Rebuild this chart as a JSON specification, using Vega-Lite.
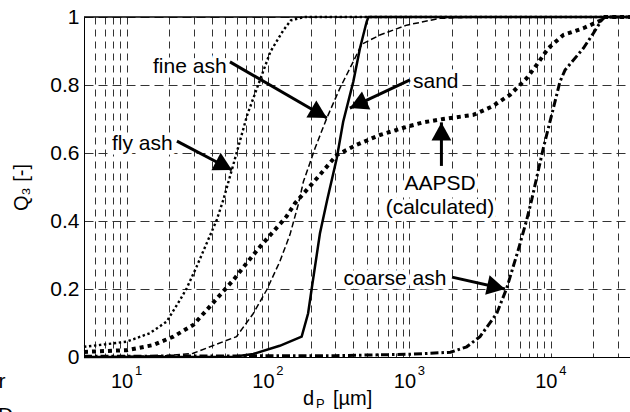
{
  "$schema": "https://vega.github.io/schema/vega-lite/v6.json",
  "width": 546,
  "height": 340,
  "autosize": {"type": "none"},
  "padding": {"left": 84, "top": 17, "right": 0, "bottom": 55},
  "background": "white",
  "config": {
    "view": {"stroke": null},
    "text": {"font": "Liberation Sans", "color": "black"},
    "axis": {"labelFont": "Liberation Sans", "titleFont": "Liberation Sans"}
  },
  "datasets": {
    "curves": [
      {"s": "fly ash", "d": 5, "q": 0.03}, {"s": "fly ash", "d": 7, "q": 0.037}, {"s": "fly ash", "d": 10, "q": 0.045},
      {"s": "fly ash", "d": 14.6, "q": 0.07}, {"s": "fly ash", "d": 19.2, "q": 0.104}, {"s": "fly ash", "d": 23.9, "q": 0.168},
      {"s": "fly ash", "d": 26.6, "q": 0.202}, {"s": "fly ash", "d": 31.3, "q": 0.266}, {"s": "fly ash", "d": 36.8, "q": 0.334},
      {"s": "fly ash", "d": 43.4, "q": 0.403}, {"s": "fly ash", "d": 48.3, "q": 0.462}, {"s": "fly ash", "d": 55.9, "q": 0.555},
      {"s": "fly ash", "d": 71.3, "q": 0.712}, {"s": "fly ash", "d": 88.7, "q": 0.82}, {"s": "fly ash", "d": 104, "q": 0.898},
      {"s": "fly ash", "d": 128, "q": 0.96}, {"s": "fly ash", "d": 145, "q": 0.99}, {"s": "fly ash", "d": 180, "q": 1},
      {"s": "fly ash", "d": 36260, "q": 1},

      {"s": "AAPSD", "d": 5, "q": 0.015}, {"s": "AAPSD", "d": 10, "q": 0.02}, {"s": "AAPSD", "d": 15.4, "q": 0.035},
      {"s": "AAPSD", "d": 21.4, "q": 0.06}, {"s": "AAPSD", "d": 29.6, "q": 0.094}, {"s": "AAPSD", "d": 36.8, "q": 0.138},
      {"s": "AAPSD", "d": 45.7, "q": 0.182}, {"s": "AAPSD", "d": 56.8, "q": 0.226}, {"s": "AAPSD", "d": 70.6, "q": 0.276},
      {"s": "AAPSD", "d": 87.7, "q": 0.324}, {"s": "AAPSD", "d": 109, "q": 0.369}, {"s": "AAPSD", "d": 135, "q": 0.413},
      {"s": "AAPSD", "d": 155, "q": 0.452}, {"s": "AAPSD", "d": 221, "q": 0.525}, {"s": "AAPSD", "d": 306, "q": 0.594},
      {"s": "AAPSD", "d": 423, "q": 0.624}, {"s": "AAPSD", "d": 618, "q": 0.653}, {"s": "AAPSD", "d": 955, "q": 0.677},
      {"s": "AAPSD", "d": 1250, "q": 0.69}, {"s": "AAPSD", "d": 1730, "q": 0.7}, {"s": "AAPSD", "d": 2830, "q": 0.712},
      {"s": "AAPSD", "d": 3810, "q": 0.736}, {"s": "AAPSD", "d": 5140, "q": 0.771}, {"s": "AAPSD", "d": 6745, "q": 0.82},
      {"s": "AAPSD", "d": 7930, "q": 0.859}, {"s": "AAPSD", "d": 9570, "q": 0.908}, {"s": "AAPSD", "d": 12250, "q": 0.947},
      {"s": "AAPSD", "d": 16950, "q": 0.967}, {"s": "AAPSD", "d": 22870, "q": 0.991}, {"s": "AAPSD", "d": 24100, "q": 1},
      {"s": "AAPSD", "d": 36260, "q": 1},

      {"s": "sand", "d": 5, "q": 0}, {"s": "sand", "d": 57, "q": 0.001}, {"s": "sand", "d": 78.7, "q": 0.009},
      {"s": "sand", "d": 121, "q": 0.033}, {"s": "sand", "d": 173, "q": 0.06}, {"s": "sand", "d": 192, "q": 0.128},
      {"s": "sand", "d": 203, "q": 0.197}, {"s": "sand", "d": 233, "q": 0.364}, {"s": "sand", "d": 262, "q": 0.462},
      {"s": "sand", "d": 306, "q": 0.584}, {"s": "sand", "d": 340, "q": 0.692}, {"s": "sand", "d": 401, "q": 0.81},
      {"s": "sand", "d": 447, "q": 0.908}, {"s": "sand", "d": 498, "q": 0.986}, {"s": "sand", "d": 513, "q": 1},
      {"s": "sand", "d": 36260, "q": 1},

      {"s": "fine ash", "d": 5, "q": 0}, {"s": "fine ash", "d": 19.2, "q": 0.004}, {"s": "fine ash", "d": 29.6, "q": 0.011},
      {"s": "fine ash", "d": 59.9, "q": 0.06}, {"s": "fine ash", "d": 78.7, "q": 0.128}, {"s": "fine ash", "d": 97.8, "q": 0.197},
      {"s": "fine ash", "d": 121, "q": 0.28}, {"s": "fine ash", "d": 143, "q": 0.36}, {"s": "fine ash", "d": 164, "q": 0.45},
      {"s": "fine ash", "d": 178, "q": 0.516}, {"s": "fine ash", "d": 215, "q": 0.614}, {"s": "fine ash", "d": 260, "q": 0.702},
      {"s": "fine ash", "d": 322, "q": 0.79}, {"s": "fine ash", "d": 401, "q": 0.869}, {"s": "fine ash", "d": 460, "q": 0.92},
      {"s": "fine ash", "d": 618, "q": 0.947}, {"s": "fine ash", "d": 955, "q": 0.976}, {"s": "fine ash", "d": 1644, "q": 0.996},
      {"s": "fine ash", "d": 3000, "q": 1}, {"s": "fine ash", "d": 36260, "q": 1},

      {"s": "coarse ash", "d": 5, "q": 0.002}, {"s": "coarse ash", "d": 300, "q": 0.004}, {"s": "coarse ash", "d": 1007, "q": 0.008},
      {"s": "coarse ash", "d": 1950, "q": 0.014}, {"s": "coarse ash", "d": 2541, "q": 0.03}, {"s": "coarse ash", "d": 3155, "q": 0.06},
      {"s": "coarse ash", "d": 4140, "q": 0.128}, {"s": "coarse ash", "d": 4870, "q": 0.202}, {"s": "coarse ash", "d": 5880, "q": 0.315},
      {"s": "coarse ash", "d": 6745, "q": 0.403}, {"s": "coarse ash", "d": 7315, "q": 0.462}, {"s": "coarse ash", "d": 8840, "q": 0.614},
      {"s": "coarse ash", "d": 10400, "q": 0.731}, {"s": "coarse ash", "d": 11600, "q": 0.81}, {"s": "coarse ash", "d": 12590, "q": 0.844},
      {"s": "coarse ash", "d": 16960, "q": 0.908}, {"s": "coarse ash", "d": 19950, "q": 0.952}, {"s": "coarse ash", "d": 22860, "q": 0.991},
      {"s": "coarse ash", "d": 24150, "q": 1}, {"s": "coarse ash", "d": 36260, "q": 1}
    ],
    "labels": [
      {"t": "fine ash", "d": 28.0, "q": 0.834},
      {"t": "fly ash", "d": 12.93, "q": 0.609},
      {"t": "sand", "d": 1535, "q": 0.79},
      {"t": "AAPSD", "d": 1644, "q": 0.491},
      {"t": "(calculated)", "d": 1644, "q": 0.422},
      {"t": "coarse ash", "d": 790, "q": 0.212}
    ],
    "arrows": [
      {"a": "fine ash", "x1": 53.8, "y1": 0.868, "x2": 261, "y2": 0.703},
      {"a": "fly ash", "x1": 22.7, "y1": 0.635, "x2": 55.6, "y2": 0.55},
      {"a": "sand", "x1": 1009, "y1": 0.815, "x2": 379, "y2": 0.732},
      {"a": "AAPSD", "x1": 1683, "y1": 0.562, "x2": 1683, "y2": 0.69},
      {"a": "coarse ash", "x1": 2000, "y1": 0.235, "x2": 4733, "y2": 0.2}
    ],
    "xticks": [
      {"v": 10, "e": "1"}, {"v": 100, "e": "2"}, {"v": 1000, "e": "3"}, {"v": 10000, "e": "4"}
    ]
  },
  "layer": [
    {
      "data": {"name": "curves"},
      "transform": [{"filter": "datum.s == 'fly ash'"}],
      "mark": {"type": "line", "stroke": "black", "strokeWidth": 2.4, "strokeDash": [2.4, 2.6]},
      "encoding": {
        "x": {"field": "d", "type": "quantitative",
          "scale": {"type": "log", "domain": [5, 36260], "nice": false},
          "axis": {"values": [6,7,8,9,10,20,30,40,50,60,70,80,90,100,200,300,400,500,600,700,800,900,1000,2000,3000,4000,5000,6000,7000,8000,9000,10000,20000,30000],
            "labels": false, "ticks": false, "domain": true, "domainColor": "black", "domainWidth": 1,
            "grid": true, "gridColor": "#333", "gridDash": [7, 5], "gridWidth": 1, "title": null}},
        "y": {"field": "q", "type": "quantitative",
          "scale": {"domain": [0, 1], "nice": false, "zero": false},
          "axis": {"values": [0, 0.2, 0.4, 0.6, 0.8, 1], "format": ".1~f", "labelFontSize": 21, "labelColor": "black",
            "labelPadding": 5, "ticks": false, "domain": true, "domainColor": "black", "domainWidth": 1,
            "grid": true, "gridColor": "#333", "gridDash": [9, 5], "gridWidth": 1,
            "title": "Q₃ [-]", "titleFontSize": 20, "titleFontWeight": "normal", "titleColor": "black", "titlePadding": 18}}
      }
    },
    {
      "data": {"name": "curves"},
      "transform": [{"filter": "datum.s == 'fine ash'"}],
      "mark": {"type": "line", "stroke": "black", "strokeWidth": 1.5, "strokeDash": [6, 3]},
      "encoding": {
        "x": {"field": "d", "type": "quantitative"},
        "y": {"field": "q", "type": "quantitative"}
      }
    },
    {
      "data": {"name": "curves"},
      "transform": [{"filter": "datum.s == 'sand'"}],
      "mark": {"type": "line", "stroke": "black", "strokeWidth": 2.5},
      "encoding": {
        "x": {"field": "d", "type": "quantitative"},
        "y": {"field": "q", "type": "quantitative"}
      }
    },
    {
      "data": {"name": "curves"},
      "transform": [{"filter": "datum.s == 'coarse ash'"}],
      "mark": {"type": "line", "stroke": "black", "strokeWidth": 3, "strokeDash": [8, 3, 2.5, 3]},
      "encoding": {
        "x": {"field": "d", "type": "quantitative"},
        "y": {"field": "q", "type": "quantitative"}
      }
    },
    {
      "data": {"name": "curves"},
      "transform": [{"filter": "datum.s == 'AAPSD'"}],
      "mark": {"type": "line", "stroke": "black", "strokeWidth": 4, "strokeDash": [4, 4]},
      "encoding": {
        "x": {"field": "d", "type": "quantitative"},
        "y": {"field": "q", "type": "quantitative"}
      }
    },
    {
      "data": {"name": "labels"},
      "mark": {"type": "text", "fontSize": 21, "align": "center", "baseline": "alphabetic", "fill": "white", "stroke": "white", "strokeWidth": 9, "strokeJoin": "round"},
      "encoding": {
        "x": {"field": "d", "type": "quantitative"},
        "y": {"field": "q", "type": "quantitative"},
        "text": {"field": "t"}
      }
    },
    {
      "data": {"name": "arrows"},
      "mark": {"type": "rule", "stroke": "black", "strokeWidth": 3},
      "encoding": {
        "x": {"field": "x1", "type": "quantitative"},
        "y": {"field": "y1", "type": "quantitative"},
        "x2": {"field": "x2"},
        "y2": {"field": "y2"}
      }
    },
    {
      "data": {"name": "arrows"},
      "mark": {"type": "point", "shape": "M0,0L-0.55,1L0.55,1Z", "filled": true, "fill": "black", "stroke": null, "opacity": 1, "size": 1296},
      "encoding": {
        "x": {"field": "x2", "type": "quantitative"},
        "y": {"field": "y2", "type": "quantitative"},
        "angle": {"field": "a", "type": "nominal", "legend": null,
          "scale": {"type": "ordinal", "domain": ["fine ash", "fly ash", "sand", "AAPSD", "coarse ash"], "range": [120, 117.8, 245, 0, 102.8]}}
      }
    },
    {
      "data": {"name": "labels"},
      "mark": {"type": "text", "fontSize": 21, "align": "center", "baseline": "alphabetic", "fill": "black"},
      "encoding": {
        "x": {"field": "d", "type": "quantitative"},
        "y": {"field": "q", "type": "quantitative"},
        "text": {"field": "t"}
      }
    },
    {
      "data": {"values": [{}]},
      "mark": {"type": "rule", "stroke": "black", "strokeWidth": 1.5},
      "encoding": {"y": {"datum": 1, "type": "quantitative"}}
    },
    {
      "data": {"name": "xticks"},
      "mark": {"type": "text", "fontSize": 20, "align": "right", "baseline": "alphabetic", "dx": 6.6, "dy": 31},
      "encoding": {
        "x": {"field": "v", "type": "quantitative"},
        "y": {"datum": 0, "type": "quantitative"},
        "text": {"value": "10"}
      }
    },
    {
      "data": {"name": "xticks"},
      "mark": {"type": "text", "fontSize": 13, "align": "left", "baseline": "alphabetic", "dx": 8.3, "dy": 18},
      "encoding": {
        "x": {"field": "v", "type": "quantitative"},
        "y": {"datum": 0, "type": "quantitative"},
        "text": {"field": "e"}
      }
    },
    {
      "data": {"values": [{}]},
      "mark": {"type": "text", "fontSize": 20, "align": "left", "baseline": "alphabetic", "dx": -21.3, "dy": 48, "text": "d"},
      "encoding": {
        "x": {"datum": 250, "type": "quantitative"},
        "y": {"datum": 0, "type": "quantitative"}
      }
    },
    {
      "data": {"values": [{}]},
      "mark": {"type": "text", "fontSize": 13, "align": "left", "baseline": "alphabetic", "dx": -8.3, "dy": 50.6, "text": "P"},
      "encoding": {
        "x": {"datum": 250, "type": "quantitative"},
        "y": {"datum": 0, "type": "quantitative"}
      }
    },
    {
      "data": {"values": [{}]},
      "mark": {"type": "text", "fontSize": 20, "align": "left", "baseline": "alphabetic", "dx": 8.7, "dy": 48, "text": "[µm]"},
      "encoding": {
        "x": {"datum": 250, "type": "quantitative"},
        "y": {"datum": 0, "type": "quantitative"}
      }
    },
    {
      "data": {"values": [{}]},
      "mark": {"type": "text", "fontSize": 21, "align": "left", "baseline": "alphabetic", "dx": -85.5, "dy": 31, "text": "r"},
      "encoding": {
        "x": {"datum": 5, "type": "quantitative"},
        "y": {"datum": 0, "type": "quantitative"}
      }
    },
    {
      "data": {"values": [{}]},
      "mark": {"type": "text", "fontSize": 21, "align": "left", "baseline": "alphabetic", "dx": -86, "dy": 65, "text": "D"},
      "encoding": {
        "x": {"datum": 5, "type": "quantitative"},
        "y": {"datum": 0, "type": "quantitative"}
      }
    }
  ]
}
